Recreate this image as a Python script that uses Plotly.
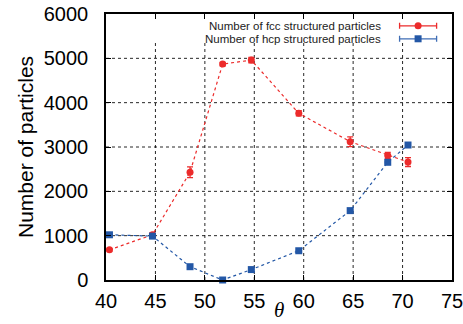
import plotly.graph_objects as go

theta = [40.35, 44.7, 48.5, 51.8, 54.7, 59.5, 64.7, 68.5, 70.55]
fcc = [680, 1020, 2430, 4870, 4960, 3760, 3120, 2810, 2660]
fcc_err = [30, 40, 120, 40, 60, 60, 110, 70, 100]
hcp = [1020, 990, 300, 0, 235, 660, 1565, 2655, 3045]
hcp_err = [10, 10, 10, 10, 10, 10, 10, 10, 10]

x_ticks = [40, 45, 50, 55, 60, 65, 70, 75]
y_ticks = [0, 1000, 2000, 3000, 4000, 5000, 6000]
fcc_label = "Number of fcc structured particles"
hcp_label = "Number of hcp structured particles"

RED = "#ec2b2b"
BLUE = "#2357a6"
FONT = "Liberation Sans, Arial, sans-serif"

fig = go.Figure()

# grid (vertical lines stop below the key area)
shapes = []
for xv in x_ticks[1:-1]:
    shapes.append(dict(type="line", xref="x", yref="y", x0=xv, x1=xv, y0=0, y1=5350,
                       line=dict(color="rgba(0,0,0,0.85)", width=1, dash="dot"), layer="below"))
for yv in y_ticks[1:-1]:
    shapes.append(dict(type="line", xref="x", yref="y", x0=40, x1=75, y0=yv, y1=yv,
                       line=dict(color="rgba(0,0,0,0.85)", width=1, dash="dot"), layer="below"))

fig.add_trace(go.Scatter(
    x=theta, y=fcc, mode="lines+markers",
    line=dict(color=RED, width=1.2, dash="dot"),
    marker=dict(symbol="circle", size=7, color=RED),
    error_y=dict(type="data", array=fcc_err, color=RED, thickness=1.3, width=3),
    showlegend=False, cliponaxis=False))
fig.add_trace(go.Scatter(
    x=theta, y=hcp, mode="lines+markers",
    line=dict(color=BLUE, width=1.2, dash="dot"),
    marker=dict(symbol="square", size=7, color=BLUE),
    error_y=dict(type="data", array=hcp_err, color=BLUE, thickness=1.3, width=3),
    showlegend=False, cliponaxis=False))

# key samples on an overlay axis (0..1)
fig.add_trace(go.Scatter(
    x=[0.902], y=[0.9556], mode="markers", xaxis="x2", yaxis="y2",
    marker=dict(symbol="circle", size=7, color=RED),
    error_x=dict(type="constant", value=0.0535, color=RED, thickness=1.3, width=3),
    showlegend=False, hoverinfo="skip"))
fig.add_trace(go.Scatter(
    x=[0.902], y=[0.9068], mode="markers", xaxis="x2", yaxis="y2",
    marker=dict(symbol="square", size=7, color=BLUE),
    error_x=dict(type="constant", value=0.0535, color="#3f6db5", thickness=1.3, width=3),
    showlegend=False, hoverinfo="skip"))

axis_common = dict(showline=True, linecolor="black", linewidth=1.5, mirror="allticks",
                   ticks="inside", ticklen=5, tickwidth=1, tickcolor="black",
                   showgrid=False, zeroline=False, automargin=False,
                   ticklabeloverflow="allow",
                   tickfont=dict(family=FONT, size=20, color="black"))

fig.update_layout(
    width=463, height=324,
    margin=dict(l=106, r=11, t=14, b=44, autoexpand=False),
    paper_bgcolor="white", plot_bgcolor="white",
    xaxis=dict(range=[40, 75], tickvals=x_ticks, ticktext=[str(v) for v in x_ticks],
               ticklabelstandoff=2, **axis_common),
    yaxis=dict(range=[0, 6000], tickvals=y_ticks, ticktext=[str(v) for v in y_ticks],
               ticklabelstandoff=12, **axis_common),
    xaxis2=dict(range=[0, 1], overlaying="x", visible=False, fixedrange=True),
    yaxis2=dict(range=[0, 1], overlaying="y", visible=False, fixedrange=True),
    shapes=shapes,
    annotations=[
        dict(text=fcc_label, xref="paper", yref="paper", x=0.8006, y=0.9556,
             xanchor="right", yanchor="middle", showarrow=False,
             font=dict(family=FONT, size=11.5, color="#222")),
        dict(text=hcp_label, xref="paper", yref="paper", x=0.8006, y=0.9068,
             xanchor="right", yanchor="middle", showarrow=False,
             font=dict(family=FONT, size=11.5, color="#222")),
        dict(text="Number of particles", xref="paper", yref="paper", x=0, y=0.5,
             xshift=-81, textangle=-90, xanchor="center", yanchor="middle", showarrow=False,
             font=dict(family=FONT, size=21, color="black")),
        dict(text="<i>θ</i>", xref="paper", yref="paper", x=0.5, y=0,
             yshift=-44, xanchor="center", yanchor="bottom", showarrow=False,
             font=dict(family="Liberation Serif, DejaVu Serif, serif", size=21, color="black")),
    ],
    showlegend=False,
)

fig.write_html("out.html", config={"displayModeBar": False},
               post_script="document.body.style.margin='0';")
